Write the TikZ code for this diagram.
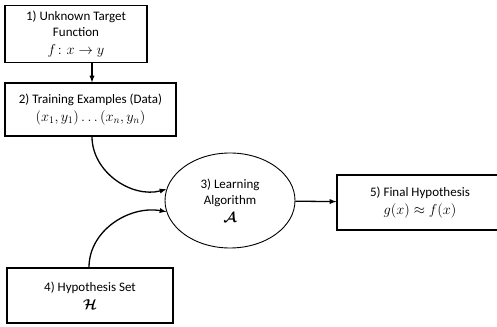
\documentclass[tikz,border=0pt]{standalone}
\usepackage{amsmath}
\usepackage{bm}
\usepackage{fontspec}
\setmainfont{Carlito}
\usepackage{tikz}
\usetikzlibrary{positioning,shapes.geometric}
\newcommand{\formula}[1]{{\fontsize{14}{16}\selectfont$#1$}}

\begin{document}
\begin{tikzpicture}[
    x=1pt,y=1pt,
    ->,
    >=latex,
    line width=1.3pt,
    font=\fontsize{13}{16}\selectfont,
    box node/.style={draw,rectangle,align=center,line width=1.2pt,inner sep=0pt},
    algo node/.style={draw,ellipse,align=center,line width=0.9pt,inner sep=0pt}
    ]
    \useasboundingbox (0,0) rectangle (497,326);

    \node[box node,minimum width=142,minimum height=57] (1) at (76,292) {1) Unknown Target\\Function\\[1.5pt]\formula{f\colon x\rightarrow y}};
    \node[box node,minimum width=171,minimum height=53] (2) at (90.5,216.5) {2) Training Examples (Data)\\[1.5pt]\formula{(x_1,y_1)\ldots(x_n,y_n)}};
    \node[algo node,minimum width=130,minimum height=95] (3) at (230,125.5) {3) Learning\\Algorithm\\[1.5pt]\formula{\bm{\mathcal{A}}}};
    \node[box node,minimum width=166,minimum height=55] (4) at (90,30.5) {4) Hypothesis Set\\[1.5pt]\formula{\bm{\mathcal{H}}}};
    \node[box node,minimum width=166,minimum height=55] (5) at (420,123.5) {5) Final Hypothesis\\[1.5pt]\formula{g(x)\approx f(x)}};

    \path[]
      ([xshift=16]1.south) edge ([xshift=1.5]2.north)
      ([xshift=1.5]2.south) edge [out=-90, in=195] (3.170)
      ([xshift=-1]4.north) edge [out=90, in=170] (3.190)
      (3) edge (5);
  \end{tikzpicture}
\end{document}
